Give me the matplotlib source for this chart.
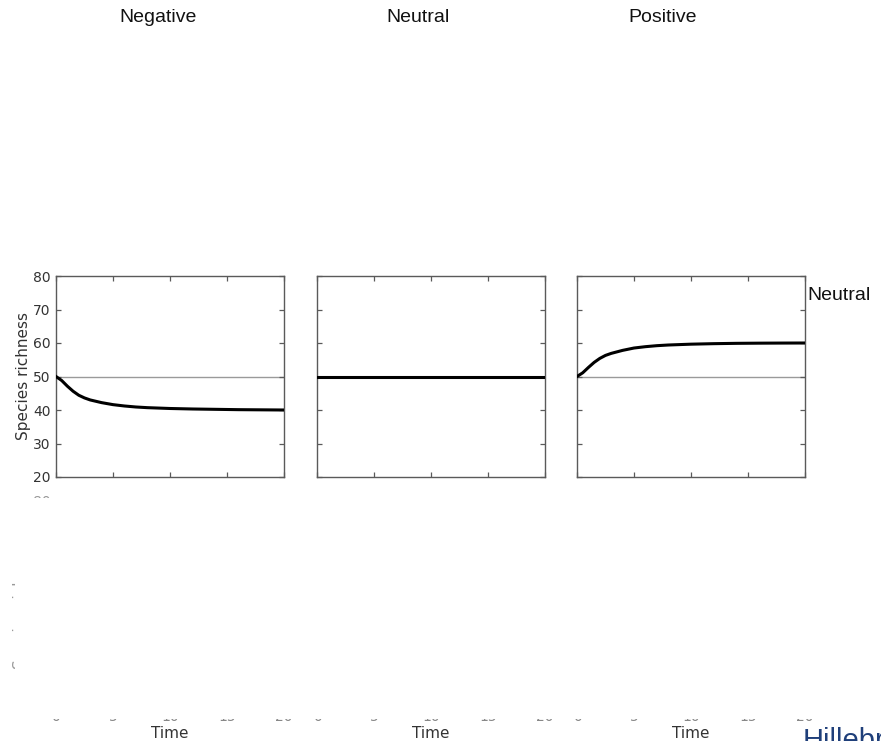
import matplotlib
matplotlib.use("Agg")
import matplotlib.pyplot as plt
import matplotlib.transforms as mtransforms
from matplotlib.patches import Rectangle

# ---- data ----
panel_titles = ["Negative", "Neutral", "Positive"]
time_neg = [0, 0.5, 1, 1.5, 2, 2.5, 3, 4, 5, 6, 7, 8, 10, 12, 14, 16, 18, 20]
rich_neg = [50, 48.8, 47.1, 45.6, 44.4, 43.6, 43.0, 42.2, 41.6, 41.2, 40.9,
            40.7, 40.45, 40.3, 40.2, 40.1, 40.05, 40.0]
time_neu = [0, 20]
rich_neu = [50, 50]
time_pos = [0, 0.5, 1, 1.5, 2, 2.5, 3, 4, 5, 6, 7, 8, 10, 12, 14, 16, 18, 20]
rich_pos = [50, 51.1, 52.7, 54.2, 55.4, 56.3, 56.9, 57.8, 58.5, 58.9, 59.2,
            59.4, 59.65, 59.8, 59.9, 59.95, 59.98, 60.0]
baseline = 50
x_ticks = [0, 5, 10, 15, 20]
x_tick_labels = ["0", "5", "10", "15", "20"]
y_ticks = [20, 30, 40, 50, 60, 70, 80]
y_tick_labels = ["20", "30", "40", "50", "60", "70", "80"]
series = [(time_neg, rich_neg), (time_neu, rich_neu), (time_pos, rich_pos)]

W, H = 881, 741
fig = plt.figure(figsize=(W / 100, H / 100), dpi=100)
fig.patch.set_facecolor("white")


def fx(px):
    return px / W


def fy(py):
    return 1 - py / H


def cover(x0, y0, x1, y1):
    # white band laid over a pixel rectangle (top-left origin)
    fig.add_artist(Rectangle((fx(x0), fy(y1)), (x1 - x0) / W, (y1 - y0) / H,
                             transform=fig.transFigure, facecolor="white",
                             edgecolor="none", zorder=20))


SANS = ["Liberation Sans", "DejaVu Sans"]
spine_col = "#5a5a5a"
text_col = "#333333"

lefts = [56, 317, 577]
top, bottom = 276, 477
width = 228

axes = []
for i, (left, (t, r)) in enumerate(zip(lefts, series)):
    ax = fig.add_axes([fx(left), fy(bottom), width / W, (bottom - top) / H])
    if i != 1:
        ax.axhline(baseline, color="#9a9a9a", lw=1.0, zorder=1)
    ax.plot(t, r, color="black", lw=2.2, zorder=3)
    ax.set_xlim(0, 20)
    ax.set_ylim(20, 80)
    ax.set_xticks(x_ticks)
    ax.set_yticks(y_ticks)
    ax.set_xticklabels([])
    if i == 0:
        ax.set_yticklabels(y_tick_labels, fontsize=10, color=text_col)
    else:
        ax.set_yticklabels([])
    ax.tick_params(direction="in", length=3.5, width=0.9, color=spine_col,
                   top=True, right=True, pad=4)
    for s in ax.spines.values():
        s.set_color(spine_col)
        s.set_linewidth(1.0)
    axes.append(ax)

# panel titles
for x, title in zip([158, 418, 663], panel_titles):
    fig.text(fx(x), fy(17), title, fontsize=14, family=SANS,
             ha="center", va="center", color="#111111")

# right-hand label
fig.text(fx(807), fy(295), "Neutral", fontsize=14, family=SANS,
         ha="left", va="center", color="#111111")

# y axis label
fig.text(fx(16), fy(376), "Species richness", rotation=90, fontsize=11,
         ha="left", va="center", color=text_col)

# x axis labels and the lower tick-label row running out of view
for ax in axes:
    trans = mtransforms.blended_transform_factory(ax.transAxes, fig.transFigure)
    fig.text(0.5, fy(734), "Time", transform=trans, fontsize=11,
             ha="center", va="center", color=text_col)
    trans_d = mtransforms.blended_transform_factory(ax.transData, fig.transFigure)
    for xv, lab in zip(x_ticks, x_tick_labels):
        fig.text(xv, fy(721), lab, transform=trans_d, fontsize=10,
                 ha="center", va="baseline", color="#888888")
cover(0, 690, W, 719.3)

# edges of the lower panel's labels peeking out
fig.text(fx(51), fy(495), "80", fontsize=10, ha="right", va="top",
         color="#999999")
cover(25, 497.8, 60, 520)
fig.text(fx(13.5), fy(605), "Species richness", rotation=90, fontsize=11,
         ha="left", va="center", color="#999999")
cover(15.4, 530, 45, 690)

# author credit, running off the page
fig.text(fx(803), fy(727), "Hillebrand", fontsize=21, family=SANS,
         ha="left", va="top", color="#1f3f7a")

fig.savefig("out.png", dpi=100, facecolor="white")
